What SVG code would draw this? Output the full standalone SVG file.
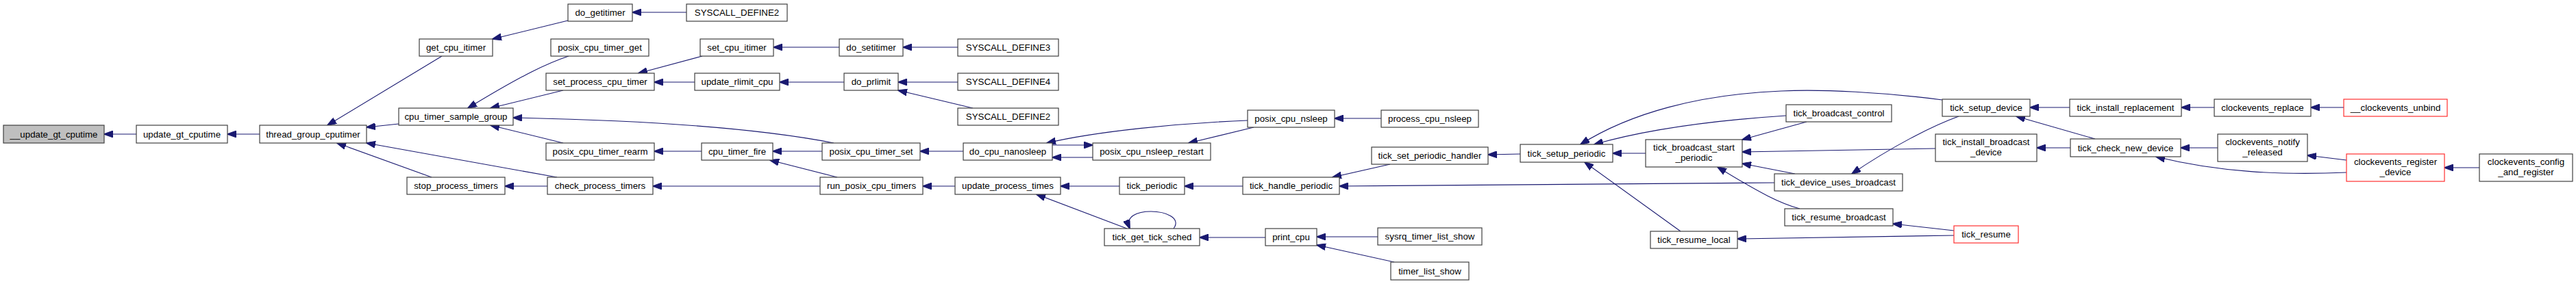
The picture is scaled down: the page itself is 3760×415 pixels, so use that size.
<svg xmlns="http://www.w3.org/2000/svg" width="3760" height="415" viewBox="0 0 3760 415">
<style>
.n rect{fill:#ffffff;stroke:#404040;stroke-width:1.2}
.n.r rect{stroke:#ff3030}
.n.g rect{fill:#bfbfbf}
.n text{font-family:"Liberation Sans",Arial,sans-serif;font-size:13.3px;fill:#000;text-anchor:middle}
#edges path{fill:none;stroke:#191970;stroke-width:1.1;marker-end:url(#ah)}
</style>
<defs>
<marker id="ah" markerUnits="userSpaceOnUse" markerWidth="14" markerHeight="10" viewBox="0 0 14 10" refX="13" refY="5" orient="auto">
<path d="M0,0 L14,5 L0,10 z" fill="#191970" stroke="#191970" stroke-width="1"/>
</marker>
</defs>
<rect width="3760" height="415" fill="#ffffff"/>
<g id="edges">
<path d="M199,196 L152,196"/>
<path d="M379,196 L332,196"/>
<path d="M645,82 L478,183"/>
<path d="M582,181 L535,186"/>
<path d="M813,259 L535,209"/>
<path d="M630,259 L492,209"/>
<path d="M829,30 L719,57"/>
<path d="M830,82 C800,92 765,108 683,158"/>
<path d="M822,132 L716,158"/>
<path d="M1217,209 C1110,188 950,176 749,172"/>
<path d="M822,209 L716,183"/>
<path d="M799,272 L737,272"/>
<path d="M1002,18 L923,18"/>
<path d="M1025,82 L932,107"/>
<path d="M1014,120 L955,120"/>
<path d="M1024,221 L955,221"/>
<path d="M1200,221 L1128,221"/>
<path d="M1222,259 L1124,234"/>
<path d="M1197,272 L953,272"/>
<path d="M1225,69 L1129,69"/>
<path d="M1232,120 L1138,120"/>
<path d="M1398,69 L1318,69"/>
<path d="M1398,120 L1311,120"/>
<path d="M1420,158 L1311,132"/>
<path d="M1406,221 L1343,221"/>
<path d="M1394,272 L1347,272"/>
<path d="M1821,176 C1720,180 1600,192 1528,209"/>
<path d="M1536,212 L1595,212"/>
<path d="M1595,230 L1536,230"/>
<path d="M1830,186 L1735,209"/>
<path d="M2016,173 L1948,173"/>
<path d="M1634,272 L1548,272"/>
<path d="M1645,334 L1513,284"/>
<path d="M1713,334 C1725,318 1700,309 1680,309 C1660,309 1642,316 1649,334"/>
<path d="M1814,272 L1729,272"/>
<path d="M1847,347 L1751,347"/>
<path d="M2029,240 L1945,259"/>
<path d="M2590,267 L1955,272"/>
<path d="M2011,346 L1922,346"/>
<path d="M2035,383 L1922,358"/>
<path d="M2219,225 L2172,226"/>
<path d="M2835,146 C2750,135 2660,130 2600,133 C2480,138 2380,165 2307,211"/>
<path d="M2607,169 C2500,176 2400,190 2327,211"/>
<path d="M2637,178 L2543,204"/>
<path d="M2402,224 L2354,224"/>
<path d="M2453,338 L2313,237"/>
<path d="M2620,254 L2543,239"/>
<path d="M2627,305 C2600,298 2570,283 2507,244"/>
<path d="M2859,170 C2820,184 2760,215 2703,254"/>
<path d="M2825,217 L2543,222"/>
<path d="M2852,337 L2763,327"/>
<path d="M2852,344 L2536,349"/>
<path d="M3021,157 L2963,157"/>
<path d="M3058,203 L2943,170"/>
<path d="M3022,216 L2973,216"/>
<path d="M3232,157 L3184,157"/>
<path d="M3237,216 L3183,216"/>
<path d="M3425,252 C3330,256 3240,252 3147,229"/>
<path d="M3425,234 L3368,227"/>
<path d="M3421,157 L3373,157"/>
<path d="M3619,245 L3568,245"/>
</g>
<g id="n0" class="n g"><rect x="5" y="183" width="147" height="26"/><text x="78.5" y="200.5">__update_gt_cputime</text></g>
<g id="n1" class="n"><rect x="199" y="183" width="133" height="26"/><text x="265.5" y="200.5">update_gt_cputime</text></g>
<g id="n2" class="n"><rect x="379" y="183" width="156" height="26"/><text x="457" y="200.5">thread_group_cputimer</text></g>
<g id="n3" class="n"><rect x="612" y="57" width="107" height="25"/><text x="665.5" y="74">get_cpu_itimer</text></g>
<g id="n4" class="n"><rect x="582" y="158" width="167" height="25"/><text x="665.5" y="175">cpu_timer_sample_group</text></g>
<g id="n5" class="n"><rect x="594" y="259" width="143" height="25"/><text x="665.5" y="276">stop_process_timers</text></g>
<g id="n6" class="n"><rect x="829" y="6" width="94" height="25"/><text x="876" y="23">do_getitimer</text></g>
<g id="n7" class="n"><rect x="804" y="57" width="143" height="25"/><text x="875.5" y="74">posix_cpu_timer_get</text></g>
<g id="n8" class="n"><rect x="797" y="107" width="158" height="25"/><text x="876" y="124">set_process_cpu_timer</text></g>
<g id="n9" class="n"><rect x="797" y="209" width="158" height="25"/><text x="876" y="226">posix_cpu_timer_rearm</text></g>
<g id="n10" class="n"><rect x="799" y="259" width="154" height="25"/><text x="876" y="276">check_process_timers</text></g>
<g id="n11" class="n"><rect x="1002" y="6" width="147" height="25"/><text x="1075.5" y="23">SYSCALL_DEFINE2</text></g>
<g id="n12" class="n"><rect x="1022" y="57" width="107" height="25"/><text x="1075.5" y="74">set_cpu_itimer</text></g>
<g id="n13" class="n"><rect x="1014" y="107" width="124" height="25"/><text x="1076" y="124">update_rlimit_cpu</text></g>
<g id="n14" class="n"><rect x="1024" y="209" width="104" height="25"/><text x="1076" y="226">cpu_timer_fire</text></g>
<g id="n15" class="n"><rect x="1200" y="209" width="143" height="25"/><text x="1271.5" y="226">posix_cpu_timer_set</text></g>
<g id="n16" class="n"><rect x="1197" y="259" width="150" height="25"/><text x="1272" y="276">run_posix_cpu_timers</text></g>
<g id="n17" class="n"><rect x="1225" y="57" width="93" height="25"/><text x="1271.5" y="74">do_setitimer</text></g>
<g id="n18" class="n"><rect x="1232" y="107" width="79" height="25"/><text x="1271.5" y="124">do_prlimit</text></g>
<g id="n19" class="n"><rect x="1398" y="57" width="147" height="25"/><text x="1471.5" y="74">SYSCALL_DEFINE3</text></g>
<g id="n20" class="n"><rect x="1398" y="107" width="147" height="25"/><text x="1471.5" y="124">SYSCALL_DEFINE4</text></g>
<g id="n21" class="n"><rect x="1398" y="158" width="147" height="25"/><text x="1471.5" y="175">SYSCALL_DEFINE2</text></g>
<g id="n22" class="n"><rect x="1406" y="209" width="130" height="25"/><text x="1471" y="226">do_cpu_nanosleep</text></g>
<g id="n23" class="n"><rect x="1394" y="259" width="154" height="25"/><text x="1471" y="276">update_process_times</text></g>
<g id="n24" class="n"><rect x="1595" y="209" width="172" height="25"/><text x="1681" y="226">posix_cpu_nsleep_restart</text></g>
<g id="n25" class="n"><rect x="1821" y="161" width="127" height="25"/><text x="1884.5" y="178">posix_cpu_nsleep</text></g>
<g id="n26" class="n"><rect x="1634" y="259" width="95" height="25"/><text x="1681.5" y="276">tick_periodic</text></g>
<g id="n27" class="n"><rect x="1612" y="334" width="139" height="25"/><text x="1681.5" y="351">tick_get_tick_sched</text></g>
<g id="n28" class="n"><rect x="1814" y="259" width="141" height="25"/><text x="1884.5" y="276">tick_handle_periodic</text></g>
<g id="n29" class="n"><rect x="1847" y="334" width="75" height="25"/><text x="1884.5" y="351">print_cpu</text></g>
<g id="n30" class="n"><rect x="2016" y="161" width="142" height="25"/><text x="2087" y="178">process_cpu_nsleep</text></g>
<g id="n31" class="n"><rect x="2002" y="215" width="170" height="25"/><text x="2087" y="232">tick_set_periodic_handler</text></g>
<g id="n32" class="n"><rect x="2011" y="333" width="152" height="25"/><text x="2087" y="350">sysrq_timer_list_show</text></g>
<g id="n33" class="n"><rect x="2030" y="383" width="114" height="26"/><text x="2087" y="400.5">timer_list_show</text></g>
<g id="n34" class="n"><rect x="2219" y="211" width="135" height="26"/><text x="2286.5" y="228.5">tick_setup_periodic</text></g>
<g id="n35" class="n"><rect x="2402" y="204" width="141" height="40"/><text x="2472.5" y="220">tick_broadcast_start</text><text x="2472.5" y="235">_periodic</text></g>
<g id="n36" class="n"><rect x="2409" y="338" width="127" height="25"/><text x="2472.5" y="355">tick_resume_local</text></g>
<g id="n37" class="n"><rect x="2607" y="153" width="154" height="25"/><text x="2684" y="170">tick_broadcast_control</text></g>
<g id="n38" class="n"><rect x="2590" y="254" width="187" height="25"/><text x="2683.5" y="271">tick_device_uses_broadcast</text></g>
<g id="n39" class="n"><rect x="2605" y="305" width="158" height="25"/><text x="2684" y="322">tick_resume_broadcast</text></g>
<g id="n40" class="n"><rect x="2835" y="145" width="128" height="25"/><text x="2899" y="162">tick_setup_device</text></g>
<g id="n41" class="n"><rect x="2825" y="196" width="148" height="40"/><text x="2899" y="212">tick_install_broadcast</text><text x="2899" y="227">_device</text></g>
<g id="n42" class="n r"><rect x="2852" y="330" width="94" height="25"/><text x="2899" y="347">tick_resume</text></g>
<g id="n43" class="n"><rect x="3021" y="145" width="163" height="25"/><text x="3102.5" y="162">tick_install_replacement</text></g>
<g id="n44" class="n"><rect x="3022" y="203" width="161" height="26"/><text x="3102.5" y="220.5">tick_check_new_device</text></g>
<g id="n45" class="n"><rect x="3232" y="145" width="141" height="25"/><text x="3302.5" y="162">clockevents_replace</text></g>
<g id="n46" class="n"><rect x="3237" y="196" width="131" height="40"/><text x="3302.5" y="212">clockevents_notify</text><text x="3302.5" y="227">_released</text></g>
<g id="n47" class="n r"><rect x="3421" y="145" width="151" height="25"/><text x="3496.5" y="162">__clockevents_unbind</text></g>
<g id="n48" class="n r"><rect x="3425" y="225" width="143" height="40"/><text x="3496.5" y="241">clockevents_register</text><text x="3496.5" y="256">_device</text></g>
<g id="n49" class="n"><rect x="3619" y="225" width="136" height="40"/><text x="3687" y="241">clockevents_config</text><text x="3687" y="256">_and_register</text></g>
</svg>
